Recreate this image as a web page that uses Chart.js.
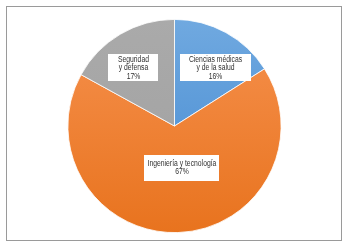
<!DOCTYPE html>
<html>
<head>
<meta charset="utf-8">
<script src="https://cdn.jsdelivr.net/npm/chart.js@4/dist/chart.umd.min.js"></script>
<style>
html,body{margin:0;padding:0;background:#fff;}
#wrap{position:relative;width:349px;height:246px;}
</style>
</head>
<body>
<div id="wrap"><canvas id="c" width="349" height="246"></canvas></div>
<script>
const categories = ["Ciencias médicas\ny de la salud", "Ingeniería y tecnología", "Seguridad\ny defensa"];
const values = [16, 67, 17];
const percentLabels = ["16%", "67%", "17%"];

const colorStops = [
  ["#70A9E0", "#4288D0"],
  ["#F6914E", "#E8731E"],
  ["#AAAAAA", "#A0A0A0"]
];
// label box centre offsets relative to pie centre, in units of radius
const labelOffsets = [[0.385, -0.547], [0.07, 0.39], [-0.385, -0.547]];
const boxSizes = [[71, 27], [75, 26], [50, 27]];

function makeGrad(ctx, area, i) {
  if (!area) return colorStops[i][0];
  const g = ctx.createLinearGradient(0, area.top, 0, area.bottom);
  g.addColorStop(0, colorStops[i][0]);
  g.addColorStop(1, colorStops[i][1]);
  return g;
}

const frame = {
  id: 'frame',
  afterDraw(chart) {
    const ctx = chart.ctx;
    ctx.save();
    ctx.strokeStyle = '#9a9a9a';
    ctx.lineWidth = 1;
    ctx.strokeRect(6.5, 6.5, 335, 234);
    ctx.restore();
  }
};

const boxLabels = {
  id: 'boxLabels',
  afterDatasetsDraw(chart) {
    const ctx = chart.ctx;
    const meta = chart.getDatasetMeta(0);
    const sx = 0.8;
    ctx.save();
    ctx.font = '8.5px "Liberation Sans", Arial, sans-serif';
    ctx.textAlign = 'center';
    ctx.textBaseline = 'middle';
    meta.data.forEach((arc, i) => {
      const lines = categories[i].split('\n').concat([percentLabels[i]]);
      const r = arc.outerRadius;
      const cx = arc.x + labelOffsets[i][0] * r;
      const cy = arc.y + labelOffsets[i][1] * r;
      const lh = 8.5;
      const bw = boxSizes[i][0], bh = boxSizes[i][1];
      ctx.fillStyle = '#ffffff';
      ctx.fillRect(Math.round(cx - bw / 2), Math.round(cy - bh / 2), bw, bh);
      ctx.fillStyle = '#303030';
      const start = cy - (lines.length - 1) * lh / 2;
      lines.forEach((l, k) => {
        ctx.save();
        ctx.translate(cx, start + k * lh);
        ctx.scale(sx, 1);
        ctx.fillText(l, 0, 0);
        ctx.restore();
      });
    });
    ctx.restore();
  }
};

new Chart(document.getElementById('c'), {
  type: 'pie',
  data: {
    labels: categories,
    datasets: [{
      data: values,
      backgroundColor: (c) => makeGrad(c.chart.ctx, c.chart.chartArea, c.dataIndex),
      borderColor: '#ffffff',
      borderWidth: 0.8
    }]
  },
  options: {
    responsive: false,
    animation: false,
    layout: { padding: { top: 19, bottom: 13, left: 0, right: 0 } },
    plugins: { legend: { display: false }, tooltip: { enabled: false } }
  },
  plugins: [frame, boxLabels]
});
</script>
</body>
</html>
